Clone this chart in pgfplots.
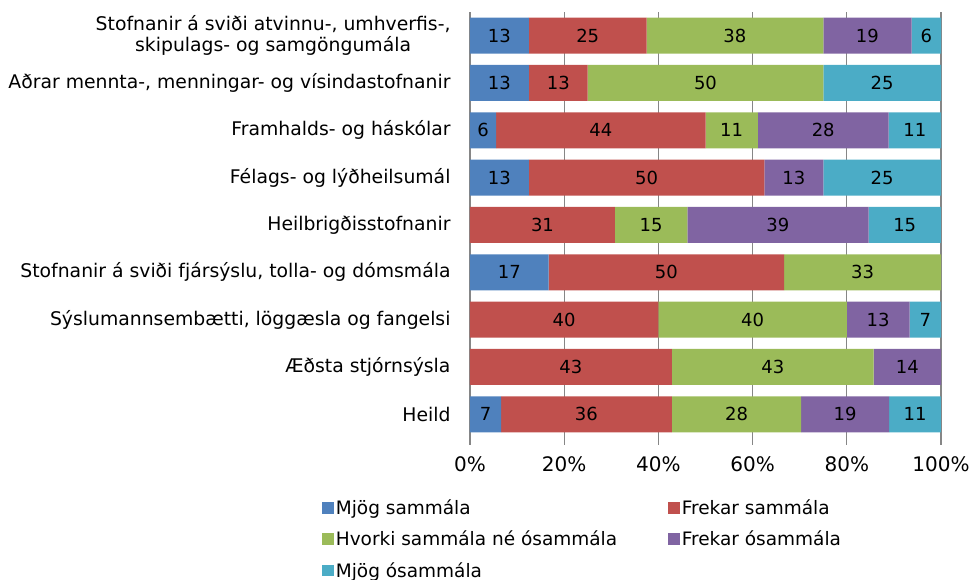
\documentclass[border=0pt]{standalone}
\usepackage{pgfplots}
\pgfplotsset{compat=1.18}
\usepackage{fontspec}
\setmainfont{DejaVu Sans}
\definecolor{cA}{HTML}{4F81BD}
\definecolor{cB}{HTML}{C0504D}
\definecolor{cC}{HTML}{9BBB59}
\definecolor{cD}{HTML}{8064A2}
\definecolor{cE}{HTML}{4BACC6}
\definecolor{axgray}{HTML}{868686}
\begin{document}
\begin{tikzpicture}[x=1pt,y=1pt]
\path[use as bounding box] (0,0) rectangle (975,580);
\begin{axis}[
  at={(470pt,142pt)}, anchor=south west,
  scale only axis, width=471pt, height=426pt,
  xbar stacked, bar width=36pt,
  xmin=0, xmax=100, ymin=-0.5, ymax=8.5,
  enlargelimits=false,
  axis lines*=left,
  x axis line style={draw=none},
  y axis line style={draw=axgray, line width=1.3pt},
  xtick={0,20,...,100},
  xticklabel={\pgfmathprintnumber[assume math mode=true]{\tick}\%},
  xticklabel style={font=\fontsize{20}{24}\selectfont, yshift=-8pt},
  xmajorgrids, grid style={axgray, line width=1.2pt},
  tick align=outside,
  major tick length=7pt,
  minor tick length=7pt,
  tick style={axgray, line width=1.2pt},
  ytick={0,...,8},
  minor ytick={-0.5,0.5,...,8.5},
  ytick style={draw=none},
  minor tick style={draw=axgray, line width=1.2pt},
  yticklabels={Heild, Æðsta stjórnsýsla, {Sýslumannsembætti, löggæsla og fangelsi}, {Stofnanir á sviði fjársýslu, tolla- og dómsmála}, Heilbrigðisstofnanir, Félags- og lýðheilsumál, Framhalds- og háskólar, {Aðrar mennta-, menningar- og vísindastofnanir}, {Stofnanir á sviði atvinnu-, umhverfis-,\\ skipulags- og samgöngumála}},
  yticklabel style={font=\fontsize{18.8}{21.5}\selectfont, align=center, xshift=-9pt},
  nodes near coords,
  point meta=explicit symbolic,
  every node near coord/.append style={font=\fontsize{18}{21}\selectfont, text=black},
  legend columns=2,
  legend cell align=left,
  legend image code/.code={\fill[#1] (0pt,-5.8pt) rectangle (11.6pt,5.8pt);},
  legend style={draw=none, at={(axis description cs:-0.3205,-0.135)}, anchor=north west,
    font=\fontsize{18.5}{21}\selectfont, row sep=11pt,
    /tikz/every even column/.append style={column sep=49pt}},
]
\addplot[fill=cA, draw=none] coordinates {(6.59,0)[7] (0,1)[] (0,2)[] (16.67,3)[17] (0,4)[] (12.5,5)[13] (5.56,6)[6] (12.5,7)[13] (12.5,8)[13]};
\addplot[fill=cB, draw=none] coordinates {(36.26,0)[36] (42.86,1)[43] (40,2)[40] (50,3)[50] (30.77,4)[31] (50,5)[50] (44.44,6)[44] (12.5,7)[13] (25,8)[25]};
\addplot[fill=cC, draw=none] coordinates {(27.47,0)[28] (42.85,1)[43] (40,2)[40] (33.33,3)[33] (15.38,4)[15] (0,5)[] (11.11,6)[11] (50,7)[50] (37.5,8)[38]};
\addplot[fill=cD, draw=none] coordinates {(18.68,0)[19] (14.29,1)[14] (13.33,2)[13] (0,3)[] (38.46,4)[39] (12.5,5)[13] (27.78,6)[28] (0,7)[] (18.75,8)[19]};
\addplot[fill=cE, draw=none] coordinates {(10.99,0)[11] (0,1)[] (6.67,2)[7] (0,3)[] (15.38,4)[15] (25,5)[25] (11.11,6)[11] (25,7)[25] (6.25,8)[6]};
\legend{Mjög sammála, Frekar sammála, Hvorki sammála né ósammála, Frekar ósammála, Mjög ósammála}
\end{axis}
\end{tikzpicture}
\end{document}
